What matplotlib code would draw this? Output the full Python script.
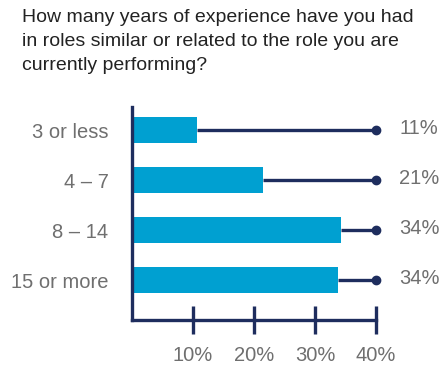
import matplotlib.pyplot as plt

plt.rcParams['font.family'] = ['Liberation Sans', 'DejaVu Sans']

# survey answers
categories = ['3 or less', '4 \u2013 7', '8 \u2013 14', '15 or more']
shares = [10.6, 21.4, 34.3, 33.8]
xticks = [10, 20, 30, 40]
xtick_labels = ['10%', '20%', '30%', '40%']

navy = '#1e2d5e'
blue = '#00a0d1'
grey = '#6f6f6f'

fig = plt.figure(figsize=(4.47, 3.66), dpi=100)
ax = fig.add_axes([132 / 447, 46 / 366, 244 / 447, 213 / 366])

ypos = list(range(len(categories)))
ax.barh(ypos, shares, height=0.52, color=blue, zorder=2)

# connector from the end of each bar to the 40% mark
for y, v in zip(ypos, shares):
    ax.plot([v, 40], [y, y], color=navy, lw=2.4, solid_capstyle='butt',
            zorder=1, clip_on=False)
    ax.plot([40], [y], 'o', color=navy, ms=6, clip_on=False, zorder=3)
    ax.text(43.8, y - 0.02, f'{v:.0f}%', color=grey, fontsize=14.5,
            va='center', ha='left')

ax.set_xlim(0, 40)
ax.set_ylim(3.8, -0.46)
ax.set_yticks(ypos)
ax.set_yticklabels(categories, color=grey, fontsize=14.5)
ax.set_xticks(xticks)
ax.set_xticklabels(xtick_labels, color=grey, fontsize=14.5)

for side in ['top', 'right']:
    ax.spines[side].set_visible(False)
for side in ['left', 'bottom']:
    ax.spines[side].set_color(navy)
    ax.spines[side].set_linewidth(2.4)

ax.tick_params(axis='y', length=0, pad=17)
ax.tick_params(axis='x', direction='inout', length=20, width=2.4,
               color=navy, pad=9)

fig.text(22 / 447, 1 - 9 / 366,
         'How many years of experience have you had\n'
         'in roles similar or related to the role you are\n'
         'currently performing?',
         ha='left', va='top', fontsize=14, color='#222222', linespacing=1.55)

fig.savefig('out.png', dpi=100)
